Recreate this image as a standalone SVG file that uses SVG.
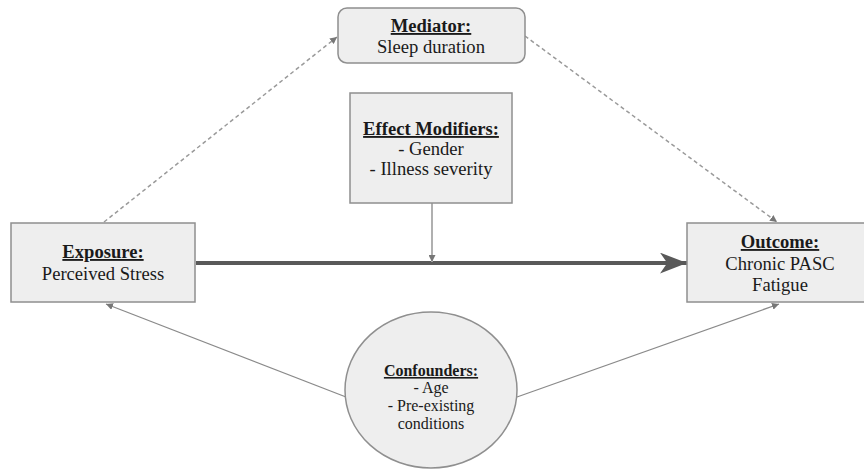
<svg xmlns="http://www.w3.org/2000/svg" width="864" height="475" viewBox="0 0 864 475">
<defs>
<style>
.box{fill:#eeeeee;stroke:#8f8f8f;stroke-width:1.5}
.t{font-family:"Liberation Serif","Times New Roman",serif;font-size:18.6px;fill:#1a1a1a;text-anchor:middle}
.h{font-weight:bold;text-decoration:underline}
.s{font-size:16px}
.dash{fill:none;stroke:#9a9a9a;stroke-width:1.5;stroke-dasharray:4 3}
.thin{fill:none;stroke:#8a8a8a;stroke-width:1.3}
.main{fill:none;stroke:#595959;stroke-width:4}
.mod{fill:none;stroke:#b0b0b0;stroke-width:2}
</style>
<marker id="sm" viewBox="0 0 10 10" refX="10" refY="5" markerWidth="7" markerHeight="7" markerUnits="userSpaceOnUse" orient="auto">
<path d="M0,0 L10,5 L0,10 z" fill="#777"/>
</marker>
<marker id="big" viewBox="0 0 26 20" refX="26" refY="10" markerWidth="27" markerHeight="21" markerUnits="userSpaceOnUse" orient="auto">
<path d="M0,0 L26,10 L0,20 L7,10 z" fill="#595959"/>
</marker>
</defs>
<g id="connectors">
<line class="dash" x1="104" y1="222" x2="337" y2="37" marker-end="url(#sm)"/>
<line class="dash" x1="525" y1="36" x2="777" y2="222" marker-end="url(#sm)"/>
<line class="main" x1="196" y1="263" x2="687" y2="263" marker-end="url(#big)"/>
<line class="mod" x1="432" y1="203" x2="432" y2="262" marker-end="url(#sm)"/>
<line class="thin" x1="346" y1="397" x2="106" y2="304" marker-end="url(#sm)"/>
<line class="thin" x1="517" y1="397" x2="779" y2="304" marker-end="url(#sm)"/>
</g>
<g id="mediator">
<rect class="box" x="338" y="8" width="187" height="55" rx="9"/>
<text class="t h" x="431" y="32">Mediator:</text>
<text class="t" x="431" y="53">Sleep duration</text>
</g>
<g id="modifiers">
<rect class="box" x="350" y="93" width="162" height="110"/>
<text class="t h" x="431" y="135">Effect Modifiers:</text>
<text class="t" x="431" y="155">- Gender</text>
<text class="t" x="431" y="175">- Illness severity</text>
</g>
<g id="exposure">
<rect class="box" x="11" y="223" width="184" height="79"/>
<text class="t h" x="103" y="258">Exposure:</text>
<text class="t" x="103" y="280">Perceived Stress</text>
</g>
<g id="outcome">
<rect class="box" x="687" y="223" width="186" height="79"/>
<text class="t h" x="780" y="248">Outcome:</text>
<text class="t" x="780" y="270">Chronic PASC</text>
<text class="t" x="780" y="291">Fatigue</text>
</g>
<g id="confounders">
<ellipse class="box" cx="431" cy="390" rx="86" ry="78"/>
<text class="t s h" x="431" y="376">Confounders:</text>
<text class="t s" x="431" y="393">- Age</text>
<text class="t s" x="431" y="411">- Pre-existing</text>
<text class="t s" x="431" y="429">conditions</text>
</g>
</svg>
